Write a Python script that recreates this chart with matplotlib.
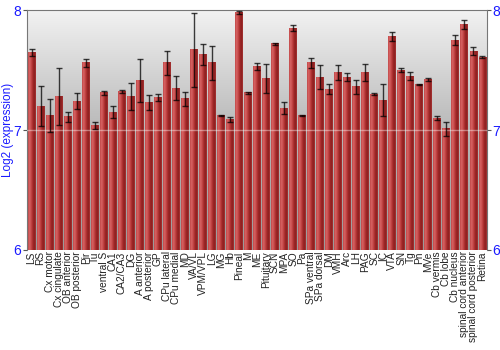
import numpy as np
import matplotlib.pyplot as plt
from matplotlib.colors import LinearSegmentedColormap

plt.rcParams["font.family"] = ["Liberation Sans", "DejaVu Sans"]

regions = ["LS", "RS", "Cx motor", "Cx cingulate", "OB anterior", "OB posterior",
           "Pir", "Tu", "ventral S", "CA1", "CA2/CA3", "DG", "A anterior",
           "A posterior", "GP", "CPu lateral", "CPu medial", "MD", "VA/VL",
           "VPM/VPL", "LG", "MG", "Hb", "Pineal", "M", "ME", "Pituitary", "SCN",
           "MPA", "SO", "Pa", "SPa ventral", "SPa dorsal", "DM", "VMH", "Arc",
           "LH", "PAG", "SC", "IC", "VTA", "SN", "Tg", "Pn", "MVe", "Cb vermis",
           "Cb lobe", "Cb nucleus", "spinal cord anterior",
           "spinal cord posterior", "Retina"]
expr = [7.65, 7.20, 7.12, 7.28, 7.11, 7.24, 7.56, 7.04, 7.31, 7.15, 7.32, 7.28,
        7.41, 7.23, 7.27, 7.56, 7.35, 7.26, 7.67, 7.63, 7.56, 7.12, 7.09, 7.98,
        7.31, 7.53, 7.43, 7.72, 7.18, 7.85, 7.12, 7.56, 7.44, 7.34, 7.48, 7.44,
        7.36, 7.48, 7.30, 7.25, 7.78, 7.50, 7.45, 7.38, 7.42, 7.10, 7.01, 7.75,
        7.88, 7.66, 7.61]
err = [0.03, 0.17, 0.14, 0.24, 0.04, 0.065, 0.035, 0.03, 0.015, 0.05, 0.01, 0.11,
       0.18, 0.06, 0.03, 0.10, 0.10, 0.06, 0.31, 0.09, 0.14, 0.005, 0.02, 0.01,
       0.01, 0.03, 0.12, 0.01, 0.05, 0.025, 0.005, 0.04, 0.10, 0.04, 0.06, 0.035,
       0.06, 0.07, 0.01, 0.13, 0.04, 0.02, 0.03, 0.005, 0.01, 0.02, 0.06, 0.04,
       0.04, 0.035, 0.01]

blue = "#1a1aff"
bar_cmap = LinearSegmentedColormap.from_list(
    "bar", ["#c04848", "#d86464", "#c44848", "#a82c2c", "#8a1e1e", "#a83434"])
bg_cmap = LinearSegmentedColormap.from_list("bg", ["#f2f2f2", "#b8b8b8", "#9a9a9a"])

fig = plt.figure(figsize=(5, 3.5), dpi=100)
ax = fig.add_axes([0.054, 0.286, 0.92, 0.685])

# background gradient, light at the top
grad = np.linspace(0, 1, 256).reshape(-1, 1)
ax.imshow(grad, extent=(-0.5, 50.5, 6, 8), origin="upper", cmap=bg_cmap,
          aspect="auto", zorder=0)

x = np.arange(len(regions))
w = 0.88
hgrad = np.linspace(0, 1, 64).reshape(1, -1)
for xi, v in zip(x, expr):
    ax.imshow(hgrad, extent=(xi - w / 2, xi + w / 2, 6, v), cmap=bar_cmap,
              aspect="auto", zorder=2)

ax.axhline(7, color="white", alpha=0.4, lw=1, zorder=3)
ax.errorbar(x, expr, yerr=err, fmt="none", ecolor="black", elinewidth=1,
            capsize=2.2, capthick=1, alpha=0.75, zorder=4)

ax.set_xlim(-0.5, 50.5)
ax.set_ylim(6, 8)
ax.set_yticks([6, 7, 8])
ax.tick_params(axis="y", colors="#555555", labelcolor=blue, labelsize=10,
               length=3, right=True, labelright=True, pad=1)
ax.set_xticks(x)
ax.set_xticklabels(regions, rotation=90, fontsize=7.3, color="#222222")
ax.tick_params(axis="x", length=0, pad=1)
ax.set_ylabel("Log2 (expression)", color=blue, fontsize=8.5, labelpad=0)
for s in ax.spines.values():
    s.set_color("#777777")
ax.spines["bottom"].set_visible(False)

fig.savefig("out.png", dpi=100)
